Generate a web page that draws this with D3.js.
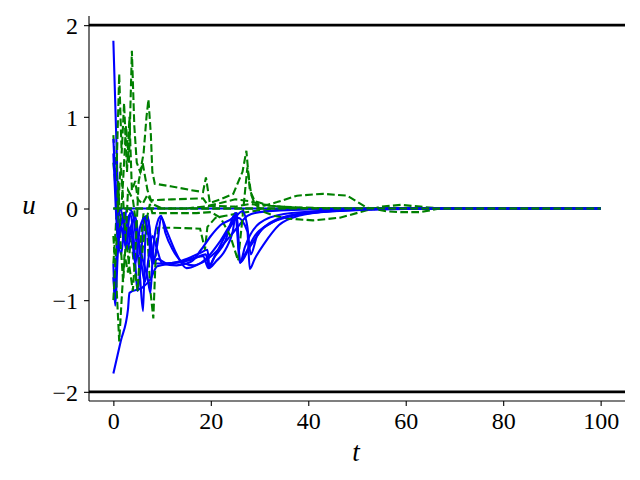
<!DOCTYPE html>
<html>
<head>
<meta charset="utf-8">
<script src="https://cdn.jsdelivr.net/npm/d3@7"></script>
<style>
    body { margin: 0; background: #ffffff; }
    svg { display: block; }
</style>
</head>
<body>
<svg id="chart" width="640" height="480"></svg>
<script>
// control trajectories u(t) as [t, u] pairs
const blueZero = [[0, 0], [100, 0]];
const blueHigh = [[0, 1.83], [0.7, 0.6], [1.2, -0.3], [1.8, -0.1], [2.6, -0.45], [3.4, -0.05], [4.2, -0.35],
    [5, -0.9], [5.6, -0.6], [6.3, -0.1], [7, -0.08], [7.8, -0.4], [8.5, -0.6], [10, -0.6], [14, -0.58],
    [18.4, -0.52], [19.5, -0.65], [20.5, -0.55], [23, -0.35], [24.5, -0.1], [25, -0.05], [26, -0.59],
    [27, -0.42], [30, -0.16], [35, -0.06], [45, -0.02], [60, 0], [100, 0]];
const blueLow = [[0, -1.8], [1.5, -1.45], [3, -1.1], [3.3, -0.92], [6, -0.86], [7.5, -0.78], [9, -0.63],
    [12, -0.6], [16, -0.56], [19, -0.5], [19.6, -0.65], [21, -0.58], [23, -0.45], [24.5, -0.25],
    [25.2, -0.05], [26, -0.59], [28, -0.42], [31, -0.2], [36, -0.08], [45, -0.02], [60, 0], [100, 0]];
const blueMid = [[0, -0.6], [0.4, -1.06], [0.9, -0.5], [1.6, -0.2], [2.4, -0.35], [3, -0.1], [3.8, -0.05],
    [4.8, -0.4], [5.4, -0.7], [6.1, -1.12], [6.5, -0.4], [7, -0.08], [7.6, -0.3], [8.2, -0.6], [9, -0.55],
    [11, -0.6], [14, -0.57], [18, -0.48], [19.3, -0.45], [19.7, -0.62], [21, -0.5], [24, -0.2],
    [25.5, -0.1], [27.5, -0.25], [28, -0.66], [29, -0.55], [31, -0.38], [34, -0.18], [38, -0.08],
    [45, -0.03], [55, -0.01], [70, 0], [100, 0]];
const blueUp = [[0, 0.76], [0.5, 0.2], [1, -0.3], [1.6, -0.5], [2.2, -0.2], [2.8, 0], [4, -0.05], [5, -0.3],
    [6, -0.55], [7, -0.75], [7.6, -0.92], [8.1, -0.5], [8.8, -0.2], [9.8, -0.08], [10.7, -0.27],
    [12.3, -0.46], [14.3, -0.59], [16.4, -0.62], [18.2, -0.59], [21.3, -0.46], [24, -0.3], [25.4, -0.21],
    [27.5, -0.08], [30, -0.04], [40, -0.01], [55, 0], [100, 0]];
const blueDown = [[0, -0.75], [0.3, -0.95], [0.8, -0.3], [1.3, 0], [2, -0.1], [3, -0.45], [3.6, -0.2],
    [4.5, -0.1], [5.5, -0.5], [6.5, -0.8], [7.2, -0.55], [8, -0.3], [9, -0.45], [10, -0.6], [13, -0.62],
    [16, -0.58], [18, -0.45], [20, -0.3], [22, -0.18], [24.5, -0.1], [25.3, -0.05], [26, -0.59],
    [27, -0.5], [29, -0.3], [32, -0.17], [36, -0.09], [42, -0.04], [50, -0.01], [60, 0], [100, 0]];
const bluePeak = [[0, 0.6], [0.5, 0], [1, -0.35], [1.5, -0.2], [2.5, -0.4], [3.5, -0.2], [4.5, -0.6],
    [5.5, -0.2], [6.5, -0.1], [7.2, -0.3], [8, -0.6], [9, -0.4], [9.8, -0.1], [11, -0.25], [13, -0.5],
    [15, -0.65], [17, -0.62], [19, -0.55], [22, -0.35], [25, -0.1], [26.5, -0.03], [27.5, -0.2], [28.2, -0.5],
    [29.5, -0.3], [33, -0.14], [38, -0.06], [48, -0.02], [60, 0], [100, 0]];

const greenZero = [[0, 0], [100, 0]];
const greenSpike = [[0, 0.5], [0.5, 0.2], [1, -0.3], [1.5, -0.1], [2, 0.3], [2.6, 0.9], [3.2, 0.5],
    [3.8, 1.72], [4.3, 0.9], [4.8, 0.5], [5.5, 0.4], [6.2, 0.6], [6.8, 1.0], [7.2, 1.19], [7.7, 0.8],
    [8, 0.4], [8.5, 0.27], [12, 0.24], [16, 0.2], [18.4, 0.18], [19, 0.34], [19.8, 0.06], [22, 0.1],
    [24.6, 0.16], [26.5, 0.4], [27.3, 0.63], [28, 0.2], [29, 0.08], [32, 0.03], [40, 0], [100, 0]];
const greenTwin = [[0, 0.8], [0.6, 0.3], [1.2, 1.47], [1.7, 0.6], [2.2, 1.15], [2.8, 0.4], [3.3, 1.0],
    [3.8, 0.2], [4.5, 0.3], [5, 0.1], [6, 0.05], [7, 0.15], [7.6, 0.09], [12, 0.1], [18.4, 0.11],
    [19.5, 0.03], [22, 0.06], [25, 0.1], [28, 0.08], [30, 0.05], [34, 0.02], [45, 0], [100, 0]];
const greenDip = [[0, -0.3], [0.6, -0.8], [1.2, -1.45], [1.8, -0.9], [2.3, -0.5], [3, -0.7], [3.6, -0.3],
    [4.2, -0.6], [5, -0.9], [5.5, -0.4], [6.2, -0.05], [7, -0.3], [7.6, -0.9], [8.2, -1.2], [8.7, -0.5],
    [9.2, -0.21], [12, -0.21], [17.8, -0.22], [18.8, -0.45], [19.3, -0.2], [21, -0.1], [23, -0.08],
    [26, -0.05], [30, -0.02], [40, 0], [100, 0]];
const greenWave = [[0, -0.6], [0.5, -0.2], [1, 0.3], [1.5, -0.4], [2, -0.8], [2.5, -0.4], [3, 0.2],
    [4, 0.1], [5, -0.3], [5.8, -0.55], [6.5, -0.2], [7.5, 0.05], [8, -0.05], [12, -0.05], [17, -0.05],
    [20, -0.04], [22, -0.1], [24, -0.3], [25.6, -0.57], [26.5, -0.1], [27.5, 0.45], [28.3, 0.15],
    [29, 0.05], [31, -0.04], [33, -0.08], [36, -0.11], [41, -0.13], [46.5, -0.1], [52, -0.02],
    [55, 0.02], [59, 0.04], [63, 0.02], [67, 0], [100, 0]];
const greenHump = [[0, -1.0], [0.4, -0.6], [0.9, -0.1], [1.5, 0.5], [2, 0.1], [2.5, -0.3], [3.2, -0.6],
    [4, -0.9], [4.5, -0.5], [5.2, 0.3], [6, 0.5], [7, 0.2], [8, 0.05], [10, 0], [15, 0], [20, 0.03],
    [25, 0.02], [28, 0.05], [31, 0.03], [33.6, 0.07], [37.7, 0.14], [43, 0.16], [48, 0.14], [52, 0.01],
    [56, -0.03], [59, -0.04], [63, -0.04], [67, 0], [100, 0]];

const blueSeries = [blueZero, blueHigh, blueLow, blueMid, blueUp, blueDown, bluePeak];
const greenSeries = [greenZero, greenSpike, greenTwin, greenDip, greenWave, greenHump, greenZero];

const boundLevels = [2, -2];
const xTicks = [0, 20, 40, 60, 80, 100];
const yTicks = [-2, -1, 0, 1, 2];

const serif = "'Liberation Serif', 'DejaVu Serif', serif";
const frame = { left: 89, right: 625, top: 16, bottom: 401 };

const svg = d3.select("#chart");

const x = d3.scaleLinear().domain([-5, 105]).range([frame.left, frame.right]);
const y = d3.scaleLinear().domain([-2.1, 2.1]).range([frame.bottom, frame.top]);

// blue runs are smooth solutions, green ones keep their sharp corners
const smoothLine = d3.line()
    .curve(d3.curveMonotoneX)
    .x(d => x(d[0]))
    .y(d => y(d[1]));
const sharpLine = d3.line()
    .x(d => x(d[0]))
    .y(d => y(d[1]));

// saturation bounds, drawn across the whole axes like axhline
svg.selectAll(".bound")
    .data(boundLevels)
    .join("line")
    .attr("class", "bound")
    .attr("x1", frame.left)
    .attr("x2", frame.right)
    .attr("y1", d => y(d))
    .attr("y2", d => y(d))
    .attr("stroke", "#000")
    .attr("stroke-width", 2.8);

// each run: solid blue first, then its dashed green partner on top
const plot = svg.append("g");
blueSeries.forEach((series, i) => {
    plot.append("path")
        .attr("d", smoothLine(series))
        .attr("fill", "none")
        .attr("stroke", "#0000ff")
        .attr("stroke-width", 2.1)
        .attr("stroke-linejoin", "round");

    plot.append("path")
        .attr("d", sharpLine(greenSeries[i]))
        .attr("fill", "none")
        .attr("stroke", "#008000")
        .attr("stroke-width", 2.1)
        .attr("stroke-dasharray", "7.7,3.3");
});

// left and bottom spines only
const xAxis = d3.axisBottom(x).tickValues(xTicks).tickSize(5).tickPadding(6).tickFormat(d3.format("d"));
const yAxis = d3.axisLeft(y).tickValues(yTicks).tickSize(5).tickPadding(6)
    .tickFormat(d => d < 0 ? "\u2212" + Math.abs(d) : String(d));

const gx = svg.append("g").attr("transform", `translate(0,${frame.bottom})`).call(xAxis);
const gy = svg.append("g").attr("transform", `translate(${frame.left},0)`).call(yAxis);

[gx, gy].forEach(g => {
    g.attr("font-family", null).attr("font-size", null);
    g.select(".domain").attr("stroke", "#000").attr("stroke-width", 1.1);
    g.selectAll(".tick line").attr("stroke", "#000").attr("stroke-width", 1.1);
    g.selectAll(".tick text")
        .style("font-family", serif)
        .style("font-size", "24px")
        .attr("fill", "#000");
});
gx.select(".domain").attr("d", `M${frame.left},0H${frame.right}`);
gy.select(".domain").attr("d", `M0,${frame.top}V${frame.bottom}`);
gy.selectAll(".tick text").attr("dy", "0.34em");

svg.append("text")
    .attr("x", 356)
    .attr("y", 461)
    .attr("text-anchor", "middle")
    .style("font-family", serif)
    .style("font-style", "italic")
    .style("font-size", "27px")
    .text("t");

svg.append("text")
    .attr("x", 29)
    .attr("y", 214)
    .attr("text-anchor", "middle")
    .style("font-family", serif)
    .style("font-style", "italic")
    .style("font-size", "27px")
    .text("u");
</script>
</body>
</html>
